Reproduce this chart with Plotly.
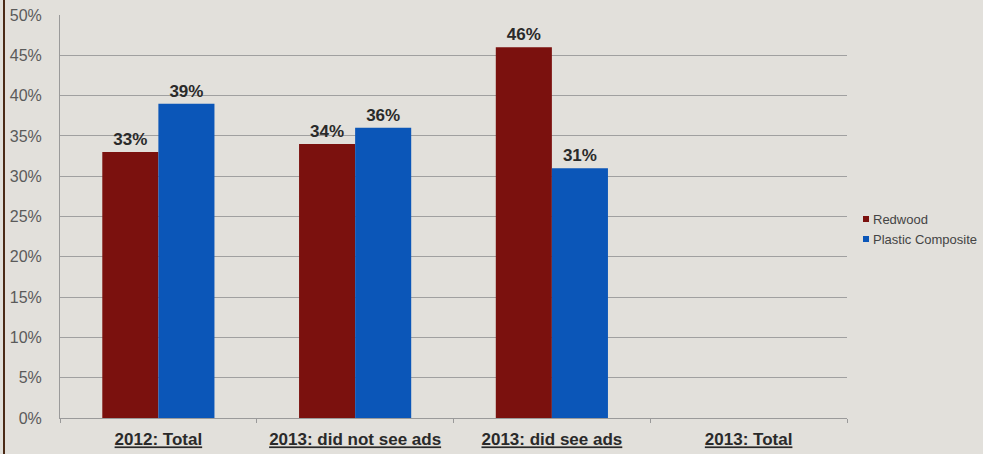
import plotly.graph_objects as go

categories = ["2012: Total", "2013: did not see ads", "2013: did see ads", "2013: Total"]
redwood = [33, 34, 46, None]
plastic = [39, 36, 31, None]
y_ticks = [0, 5, 10, 15, 20, 25, 30, 35, 40, 45, 50]
series_names = ["Redwood", "Plastic Composite"]

RED = "#7b110e"
BLUE = "#0b56b8"
W, H = 983, 454
M_L, M_R, M_T, M_B = 60, 136, 15, 36
PW, PH = W - M_L - M_R, H - M_T - M_B

cat_labels = [f"<b><u>{c}</u></b>" for c in categories]

def labels(vals):
    return [f"<b>{v}%</b>" if v is not None else "" for v in vals]

fig = go.Figure()
for name, vals, color in zip(series_names, [redwood, plastic], [RED, BLUE]):
    fig.add_trace(go.Bar(
        name=name, x=cat_labels, y=vals, showlegend=False,
        marker=dict(color=color, line=dict(width=0)),
        text=labels(vals), textposition="outside", cliponaxis=False,
        textfont=dict(family="Liberation Sans, Arial", size=17, color="#2a2a2a"),
    ))

# compact legend: small square swatch right next to each label
def px_x(px):
    return (px - M_L) / PW

def px_y(py):
    return (H - M_B - py) / PH

shapes = [
    dict(type="line", xref="paper", yref="paper",
         x0=px_x(4), x1=px_x(4), y0=px_y(H), y1=px_y(0),
         line=dict(color="#4a2a16", width=2)),
]
annotations = []
for i, (name, color) in enumerate(zip(series_names, [RED, BLUE])):
    cy = 219 + i * 20
    shapes.append(dict(type="rect", xref="paper", yref="paper",
                       x0=px_x(863), x1=px_x(869), y0=px_y(cy + 3), y1=px_y(cy - 3),
                       fillcolor=color, line=dict(width=0)))
    annotations.append(dict(xref="paper", yref="paper", x=px_x(871), y=px_y(cy),
                            xanchor="left", yanchor="middle", showarrow=False,
                            text=name, font=dict(size=13, color="#444444")))

fig.update_layout(
    width=W, height=H,
    margin=dict(l=M_L, r=M_R, t=M_T, b=M_B, autoexpand=False),
    barmode="group", bargap=0.43, bargroupgap=0,
    paper_bgcolor="#e2e0db", plot_bgcolor="rgba(0,0,0,0)",
    font=dict(family="Liberation Sans, Arial", color="#555555"),
    showlegend=False,
    xaxis=dict(
        showgrid=False, showline=True, linecolor="#9a9a9a", linewidth=1,
        ticks="outside", tickson="boundaries", ticklen=4, tickcolor="#9a9a9a",
        ticklabelstandoff=6,
        tickfont=dict(size=17, color="#2a2a2a"),
    ),
    yaxis=dict(
        range=[0, 50], tickvals=y_ticks, ticktext=[f"{v}%" for v in y_ticks],
        showgrid=True, gridcolor="#a0a0a0", gridwidth=1,
        showline=True, linecolor="#9a9a9a", linewidth=1,
        zeroline=False, tickfont=dict(size=16, color="#5a5a5a"),
        ticks="", ticklen=0, ticklabelstandoff=14,
    ),
    shapes=shapes,
    annotations=annotations,
)

fig.write_html("out.html")
